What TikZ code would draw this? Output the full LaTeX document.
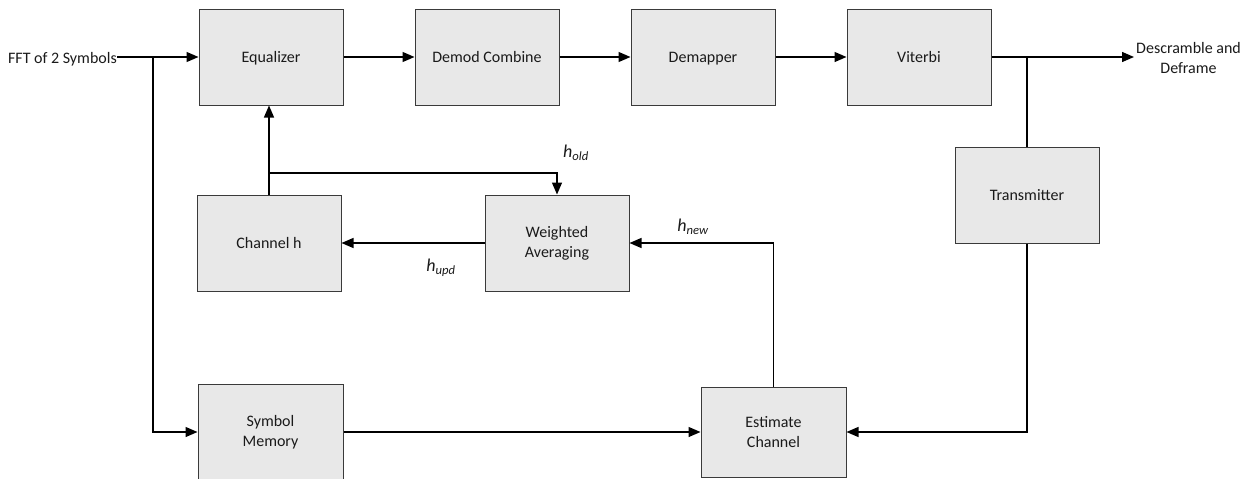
\documentclass[tikz,border=0pt]{standalone}
\usepackage{fontspec}
\setmainfont{Carlito}
\usetikzlibrary{arrows.meta,calc}
\definecolor{boxfill}{HTML}{E8E8E8}
\definecolor{boxdraw}{HTML}{3A3A3A}
\definecolor{txt}{HTML}{1A1A1A}
\begin{document}
\begin{tikzpicture}[x=1pt,y=-1pt,
  blk/.style={draw=boxdraw,fill=boxfill,line width=1pt,minimum width=144pt,minimum height=96pt,inner sep=0pt,align=center,text=txt,font=\fontsize{16}{20}\selectfont},
  oneline/.style={text height=13.5pt,text depth=3pt},
  conn/.style={line width=1.3pt,draw=black},
  arr/.style={conn,-{Triangle[length=12pt,width=10pt]}},
  lbl/.style={text=txt,font=\fontsize{16}{20}\selectfont,inner sep=0pt,align=center},
  hl/.style={text=txt,inner sep=0pt,font=\fontsize{18}{20}\selectfont\itshape}
]
\useasboundingbox (0,0) rectangle (1248,479);
% blocks
\node[blk,oneline] (eq) at (271,57) {Equalizer};
\node[blk,oneline] (dc) at (487,57) {Demod Combine};
\node[blk,oneline] (dm) at (703,57) {Demapper};
\node[blk,oneline] (vit) at (919,57) {Viterbi};
\node[blk,oneline] (tx) at (1027,195) {Transmitter};
\node[blk,oneline] (ch) at (269,243) {Channel h};
\node[blk] (wa) at (557,243) {Weighted\\Averaging};
\node[blk,minimum width=145pt] (sm) at (270.5,432) {Symbol\\Memory};
\node[blk,minimum width=145pt,minimum height=90pt] (ec) at (773.5,432) {Estimate\\Channel};
% texts
\node[lbl,anchor=east] (fft) at (117,59) {FFT of 2 Symbols};
\coordinate (fftend) at (117,57);
\node[lbl,anchor=north west] (desc) at (1136,42) {Descramble and\\Deframe};
\coordinate (descend) at (1134,57);
\node[hl] (hold) at (576,153) {h\textsubscript{old}};
\node[hl] (hupd) at (441,268) {h\textsubscript{upd}};
\node[hl] (hnew) at (693,227) {h\textsubscript{new}};
% junctions
\coordinate (j1) at (153,57);
\coordinate (j2) at (1027,57);
\coordinate (j3) at (269,173);
% connectors
\draw[arr] (fftend) -- (eq.west);
\draw[arr] (j1) |- (sm.west);
\draw[arr] (eq.east) -- (dc.west);
\draw[arr] (dc.east) -- (dm.west);
\draw[arr] (dm.east) -- (vit.west);
\draw[arr] (vit.east) -- (descend);
\draw[conn] (j2) -- (tx.north);
\draw[arr] (tx.south) |- (ec.east);
\draw[arr] (ch.north) -- (ch.north |- eq.south);
\draw[arr] (j3) -| (wa.north);
\draw[arr] (wa.west) -- (ch.east);
\draw[arr] (ec.north) |- (wa.east);
\draw[arr] (sm.east) -- (ec.west);
\end{tikzpicture}
\end{document}
